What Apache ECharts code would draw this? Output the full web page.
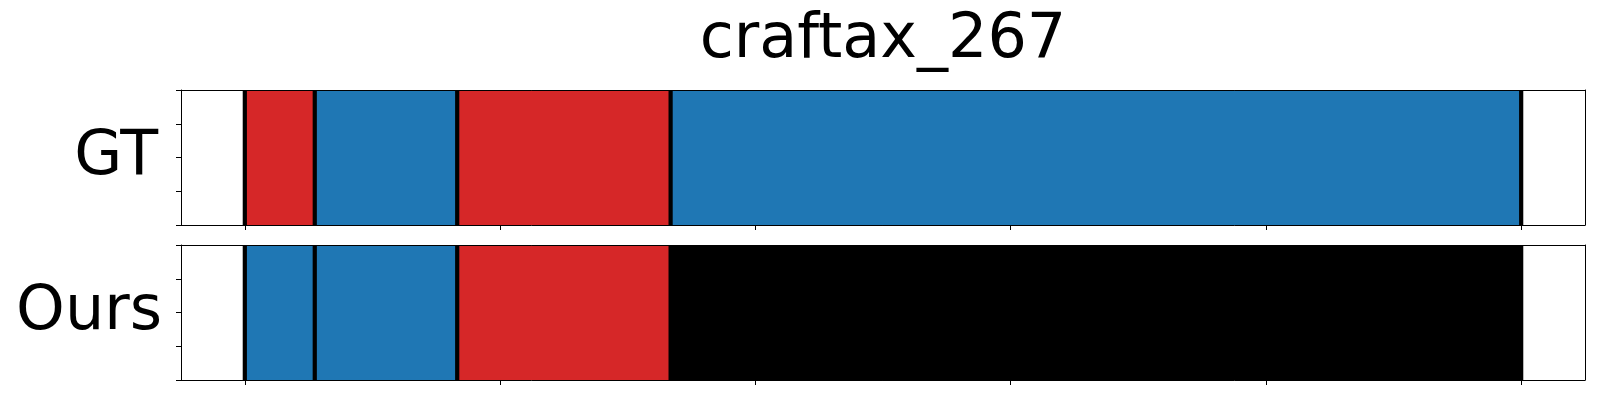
<!DOCTYPE html>
<html>
<head>
<meta charset="utf-8">
<script src="https://cdn.jsdelivr.net/npm/echarts@6/dist/echarts.min.js"></script>
<style>html,body{margin:0;padding:0;background:#fff;}#c{width:1600px;height:400px;}</style>
</head>
<body>
<div id="c"></div>
<script>
// ---- data ----
const title = 'craftax_267';
const rowNames = ['GT', 'Ours'];
const boundaries = [0, 27.4, 83.2, 166.8, 500];
const gtClasses = [1, 0, 1, 0];
const oursClasses = [0, 0, 1, 2];
const xTicks = [0, 100, 200, 300, 400, 500];
const yTicks = [0, 0.25, 0.5, 0.75, 1];

// ---- styling ----
const classColors = ['#1f77b4', '#d62728', '#000000'];
const font = 'DejaVu Sans';
const nameGaps = [23, 19];

function segData(classes) {
  return classes.map((c, i) => [boundaries[i], boundaries[i + 1], c]);
}

function segRender(params, api) {
  const s = api.value(0), e = api.value(1), c = api.value(2);
  const p0 = api.coord([s, 1]);
  const p1 = api.coord([e, 0]);
  return {
    type: 'rect',
    shape: { x: p0[0], y: p0[1], width: p1[0] - p0[0], height: p1[1] - p0[1] },
    style: { fill: classColors[c] }
  };
}
function lineRender(params, api) {
  const b = api.value(0);
  const p0 = api.coord([b, 1]);
  const p1 = api.coord([b, 0]);
  return {
    type: 'line',
    shape: { x1: p0[0], y1: p0[1], x2: p1[0], y2: p1[1] },
    style: { stroke: '#000', lineWidth: 4.2 }
  };
}

const grids = [
  { left: 181, top: 90, width: 1404, height: 135 },
  { left: 181, top: 245, width: 1404, height: 135 }
];

const xAxes = [], yAxes = [], series = [];
grids.forEach((g, gi) => {
  xAxes.push({
    type: 'value', gridIndex: gi, min: -25, max: 525, position: 'bottom', z: 10,
    splitLine: { show: false },
    axisLine: { show: true, onZero: false, lineStyle: { color: '#000', width: 1 } },
    axisTick: { show: true, length: 5, inside: false, customValues: xTicks, lineStyle: { color: '#000', width: 1 } },
    axisLabel: { show: false, customValues: xTicks }
  });
  xAxes.push({
    type: 'value', gridIndex: gi, min: -25, max: 525, position: 'top', z: 10,
    splitLine: { show: false },
    axisLine: { show: true, onZero: false, lineStyle: { color: '#000', width: 1 } },
    axisTick: { show: false }, axisLabel: { show: false }
  });
  yAxes.push({
    type: 'value', gridIndex: gi, min: 0, max: 1, interval: 0.25, position: 'left', z: 10,
    splitLine: { show: false },
    axisLine: { show: true, onZero: false, lineStyle: { color: '#000', width: 1 } },
    axisTick: { show: true, length: 5, inside: false, lineStyle: { color: '#000', width: 1 } },
    axisLabel: { show: false },
    name: rowNames[gi], nameLocation: 'middle', nameRotate: 0, nameGap: nameGaps[gi],
    nameTextStyle: { fontFamily: font, fontSize: 62, color: '#000', align: 'right', verticalAlign: 'middle', padding: [0, 0, 13, 0] }
  });
  yAxes.push({
    type: 'value', gridIndex: gi, min: 0, max: 1, position: 'right', z: 10,
    splitLine: { show: false },
    axisLine: { show: true, onZero: false, lineStyle: { color: '#000', width: 1 } },
    axisTick: { show: false }, axisLabel: { show: false }
  });
  const xi = gi * 2, yi = gi * 2;
  series.push({
    type: 'custom', xAxisIndex: xi, yAxisIndex: yi, z: 2,
    renderItem: segRender, data: segData(gi === 0 ? gtClasses : oursClasses),
    encode: { x: [0, 1], y: 2 }, silent: true
  });
  series.push({
    type: 'custom', xAxisIndex: xi, yAxisIndex: yi, z: 3,
    renderItem: lineRender, data: boundaries.map(b => [b]),
    encode: { x: 0 }, silent: true
  });
});

const chart = echarts.init(document.getElementById('c'), null, { renderer: 'canvas' });
chart.setOption({
  animation: false,
  backgroundColor: '#fff',
  title: {
    text: title, left: 878, top: 5, textAlign: 'center',
    textStyle: { fontFamily: font, fontSize: 62, fontWeight: 'normal', color: '#000' }
  },
  grid: grids,
  xAxis: xAxes,
  yAxis: yAxes,
  series: series
});
</script>
</body>
</html>
